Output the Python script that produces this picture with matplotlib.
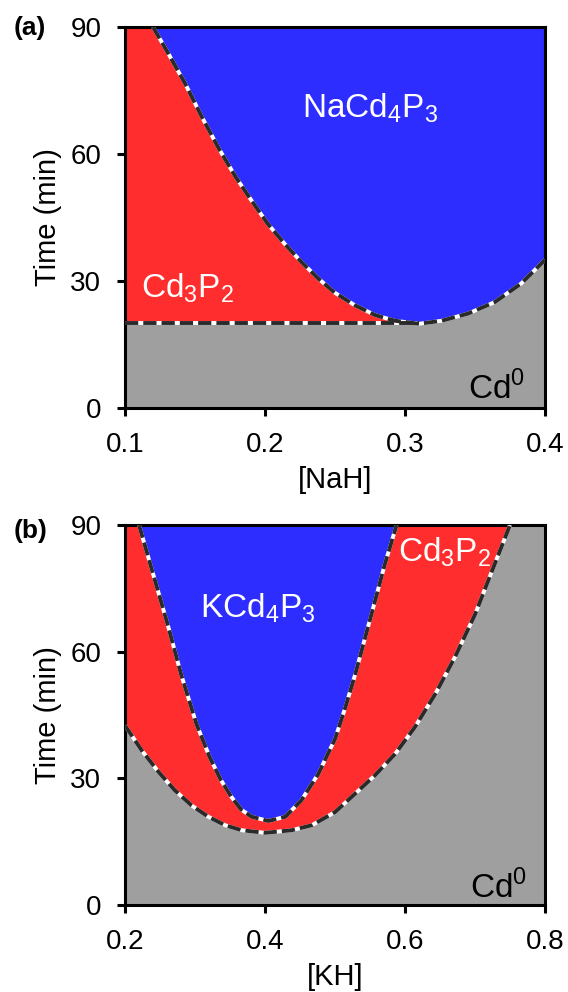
import matplotlib.pyplot as plt

plt.rcParams['font.family'] = ['Liberation Sans', 'DejaVu Sans']

# panel (a): NaH
na_flat_x = [0.10, 0.31]
na_flat_y = [20, 20]
na_x = [0.120, 0.131, 0.143, 0.155, 0.167, 0.179, 0.191, 0.202, 0.214, 0.226, 0.238,
        0.250, 0.264, 0.279, 0.293, 0.310, 0.326, 0.345, 0.364, 0.383, 0.400]
na_y = [90, 83.7, 76.6, 68.7, 61.3, 54.6, 48.7, 43.5, 38.8, 34.5, 30.6,
        27.2, 24.3, 21.9, 20.6, 19.9, 20.6, 22.3, 25.0, 29.4, 35.0]

# panel (b): KH
k_blue_x = [0.220, 0.2405, 0.261, 0.280, 0.302, 0.321, 0.337, 0.352, 0.366, 0.381, 0.405,
            0.429, 0.452, 0.476, 0.500, 0.514, 0.529, 0.543, 0.557, 0.571, 0.588]
k_blue_y = [90, 78.2, 66.4, 54.7, 42.9, 35.0, 29.6, 25.6, 22.6, 20.9, 19.9,
            20.9, 24.8, 31.0, 39.3, 46.4, 54.7, 63.3, 71.9, 80.6, 90]
k_cd_x = [0.200, 0.224, 0.248, 0.271, 0.295, 0.319, 0.343, 0.367, 0.400, 0.438, 0.467,
          0.500, 0.529, 0.557, 0.586, 0.614, 0.643, 0.671, 0.700, 0.724, 0.750]
k_cd_y = [42.5, 36.6, 31.5, 27.2, 23.6, 20.9, 18.9, 17.7, 17.1, 17.7, 18.9,
          22.0, 26.4, 30.7, 35.8, 42.1, 49.9, 58.6, 68.8, 79.0, 90]

y_ticks = [0, 30, 60, 90]
na_ticks = [0.1, 0.2, 0.3, 0.4]
k_ticks = [0.2, 0.4, 0.6, 0.8]

RED = '#FF2D2D'
BLUE = '#2D2DFF'
GRAY = '#9F9F9F'


def boundary(ax, x, y):
    ax.plot(x, y, color='white', lw=2.8, solid_capstyle='butt', zorder=3)
    ax.plot(x, y, color='#2a2a2a', lw=2.8, dashes=(3.4, 1.3), zorder=4)


def style(ax, xticks, xlabel):
    ax.set_ylim(0, 90)
    ax.set_xlim(xticks[0], xticks[-1])
    ax.set_xticks(xticks)
    ax.set_xticklabels([f'{t:.1f}' for t in xticks])
    ax.set_yticks(y_ticks)
    ax.tick_params(direction='out', length=6, width=2.2, labelsize=20, pad=11)
    for s in ax.spines.values():
        s.set_linewidth(2.2)
    ax.set_ylabel('Time (min)', fontsize=21)
    ax.set_xlabel(xlabel, fontsize=21)
    ax.yaxis.set_label_coords(-0.15, 0.5)
    ax.xaxis.set_label_coords(0.5, -0.152)
    ax.xaxis.label.set_va('top')


fig = plt.figure(figsize=(5.68, 9.92), dpi=100)
ax1 = fig.add_axes([125 / 568, 1 - 408 / 992, 420 / 568, 381 / 992])
ax2 = fig.add_axes([125 / 568, 1 - 905 / 992, 420 / 568, 380 / 992])

# (a)
ax1.set_facecolor(GRAY)
ax1.fill_between(na_flat_x, na_flat_y, 90, color=RED, lw=0)
ax1.fill_between(na_x, na_y, 90, color=BLUE, lw=0)
boundary(ax1, na_flat_x, na_flat_y)
boundary(ax1, na_x, na_y)
style(ax1, na_ticks, '[NaH]')
ax1.text(0.2262, 68.6, r'NaCd$_\mathregular{4}$P$_\mathregular{3}$', color='white', fontsize=24)
ax1.text(0.1114, 26.1, r'Cd$_\mathregular{3}$P$_\mathregular{2}$', color='white', fontsize=24)
ax1.text(0.386, 2.2, r'Cd$^\mathregular{0}$', color='black', fontsize=24, ha='right')

# (b)
ax2.set_facecolor(GRAY)
ax2.fill_between(k_cd_x, k_cd_y, 90, color=RED, lw=0)
ax2.fill_between(k_blue_x, k_blue_y, 90, color=BLUE, lw=0)
boundary(ax2, k_cd_x, k_cd_y)
boundary(ax2, k_blue_x, k_blue_y)
style(ax2, k_ticks, '[KH]')
ax2.text(0.307, 68.2, r'KCd$_\mathregular{4}$P$_\mathregular{3}$', color='white', fontsize=24)
ax2.text(0.590, 81.4, r'Cd$_\mathregular{3}$P$_\mathregular{2}$', color='white', fontsize=24)
ax2.text(0.774, 1.7, r'Cd$^\mathregular{0}$', color='black', fontsize=24, ha='right')

fig.text(14 / 568, 1 - 27.5 / 992, '(a)', fontsize=19, fontweight='bold', ha='left', va='center')
fig.text(14 / 568, 1 - 531 / 992, '(b)', fontsize=19, fontweight='bold', ha='left', va='center')

fig.savefig('out.png', dpi=100)
